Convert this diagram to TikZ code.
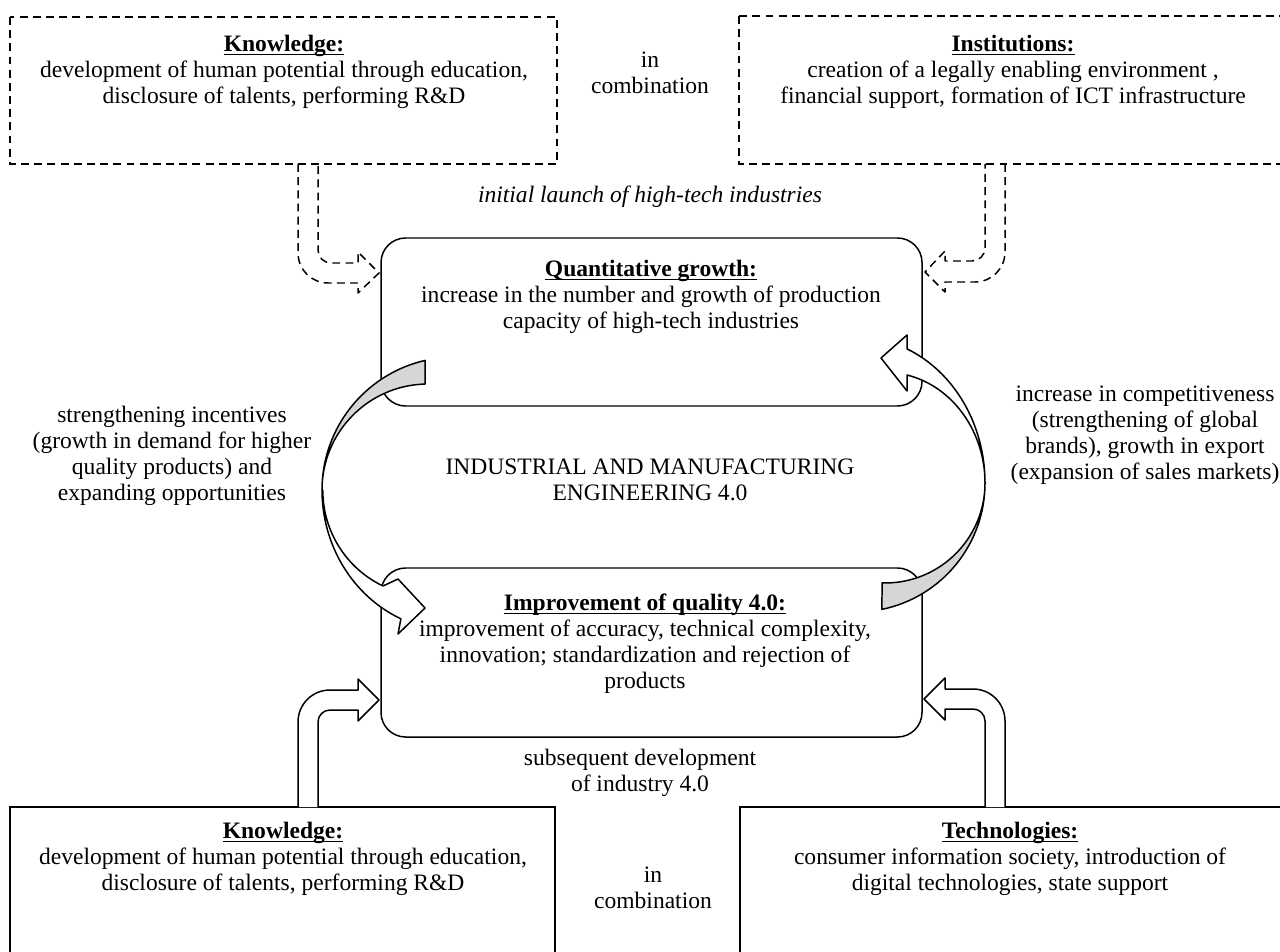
\documentclass[tikz,border=0pt]{standalone}
\usepackage{fontspec}
\setmainfont{Liberation Serif}
\newcommand{\boxtitle}[1]{\setbox0=\hbox{\bfseries #1}\rlap{\copy0}\rule[-1.9pt]{\wd0}{0.7pt}}

\begin{document}
\begin{tikzpicture}[x=0.02cm, y=-0.02cm, line width=0.85pt,
    every node/.style={font=\fontsize{13.4}{14.8}\selectfont, align=center, inner sep=0pt},
    dashbox/.style={dash pattern=on 4.5pt off 3pt},
    ribbon/.style={line join=round}]
    \useasboundingbox (0,0) rectangle (1280,952);
    \clip (0,0) rectangle (1280,952);
    % upper level (dashed)
    \draw[dashbox] (10,17) rectangle (557,164);
    \draw[dashbox] (739,16) rectangle (1300,164);
    \node (know1) at (284,72) {\boxtitle{Knowledge:}\\ development of human potential through education,\\ disclosure of talents, performing R\&D};
    \node (inst) at (1013,72) {\boxtitle{Institutions:}\\ creation of a legally enabling environment ,\\ financial support, formation of ICT infrastructure};
    \node (comb1) at (650,73) {in\\ combination};
    \node (launch) at (650,197) {\itshape initial launch of high-tech industries};
    % middle boxes
    \draw[rounded corners=14pt] (381,238) rectangle (922,406);
    \draw[rounded corners=14pt] (381,568) rectangle (922,737);
    \node (quant) at (651,297) {\boxtitle{Quantitative growth:}\\ increase in the number and growth of production\\ capacity of high-tech industries};
    \node (impr) at (645,644) {\boxtitle{Improvement of quality 4.0:}\\ improvement of accuracy, technical complexity,\\ innovation; standardization and rejection of\\ products};
    \node (ime) at (650,480) {INDUSTRIAL AND MANUFACTURING\\ ENGINEERING 4.0};
    \node (incent) at (172,456) {strengthening incentives\\ (growth in demand for higher\\ quality products) and\\ expanding opportunities};
    \node (compet) at (1145,435) {increase in competitiveness\\ (strengthening of global\\ brands), growth in export\\ (expansion of sales markets)};
    \node (subseq) at (640,773) {subsequent development\\ of industry 4.0};
    % lower level
    \draw (10,807) rectangle (555,970);
    \draw (740,807) rectangle (1300,970);
    \node (know2) at (283,859) {\boxtitle{Knowledge:}\\ development of human potential through education,\\ disclosure of talents, performing R\&D};
    \node (tech) at (1010,859) {\boxtitle{Technologies:}\\ consumer information society, introduction of\\ digital technologies, state support};
    \node (comb2) at (653,888) {in\\ combination};
    % dashed bent arrows
    \draw[dashbox, ribbon] (298,164) -- (298,253) arc[start angle=180, end angle=90, radius=30]
        -- (358,283) -- (358,293) -- (379,273) -- (358,252) -- (358,263) -- (331,263)
        arc[start angle=90, end angle=180, radius=13] -- (318,164);
    \draw[dashbox, ribbon] (1005,164) -- (1005,252) arc[start angle=0, end angle=90, radius=30]
        -- (945,282) -- (945,292) -- (925,272) -- (945,251) -- (945,261) -- (972,261)
        arc[start angle=90, end angle=0, radius=13] -- (985,164);
    % solid bent arrows
    \draw[ribbon, fill=white] (298,807) -- (298,722) arc[start angle=180, end angle=270, radius=32]
        -- (358,690) -- (358,679) -- (379,700) -- (358,721) -- (358,710) -- (330,710)
        arc[start angle=270, end angle=180, radius=12] -- (318,807);
    \draw[ribbon, fill=white] (1005,807) -- (1005,721) arc[start angle=0, end angle=-90, radius=32]
        -- (945,689) -- (945,678) -- (924,699) -- (945,720) -- (945,709) -- (973,709)
        arc[start angle=-90, end angle=0, radius=12] -- (985,807);
    % curved arrows
    \filldraw[ribbon, fill=white] (322,490) arc[start angle=180, end angle=114, x radius=133, y radius=141]
        -- (398,634) -- (425,608) -- (398,579) -- (383,586)
        arc[start angle=115.6, end angle=180, radius=106] -- cycle;
    \filldraw[ribbon, fill=gray!32] ([shift={(455,490)}]257:133) arc[start angle=257, end angle=180, radius=133]
        arc[start angle=180, end angle=268.4, radius=106] -- cycle;
    \filldraw[ribbon, fill=white] (985,483) arc[start angle=0, end angle=-66.7, x radius=129, y radius=146]
        -- (907,335) -- (881,358) -- (907,391) -- (907,375)
        arc[start angle=-77.3, end angle=0, x radius=100, y radius=111] -- cycle;
    \filldraw[ribbon, fill=gray!32] ([shift={(856,483)}]78.4:129) arc[start angle=78.4, end angle=0, radius=129]
        arc[start angle=0, end angle=91.7, radius=100] -- cycle;
\end{tikzpicture}
\end{document}
